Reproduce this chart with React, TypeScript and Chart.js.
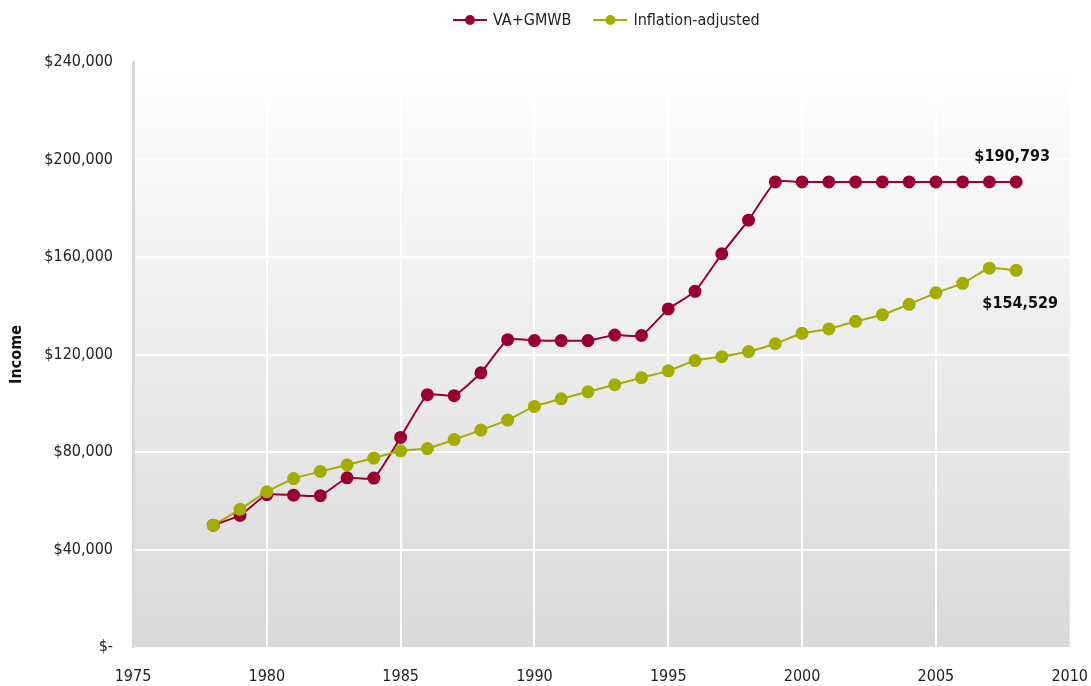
import React, { useEffect, useRef } from "react";
import { Chart, registerables } from "chart.js";

Chart.register(...registerables);

const years = [1978, 1979, 1980, 1981, 1982, 1983, 1984, 1985, 1986, 1987, 1988, 1989, 1990, 1991, 1992, 1993, 1994, 1995, 1996, 1997, 1998, 1999, 2000, 2001, 2002, 2003, 2004, 2005, 2006, 2007, 2008];
const vaGmwb = [50000, 54000, 62500, 62300, 62100, 69400, 69300, 86000, 103500, 103100, 112500, 126100, 125700, 125700, 125700, 128000, 127800, 138700, 145900, 161300, 175100, 190793, 190793, 190793, 190793, 190793, 190793, 190793, 190793, 190793, 190793];
const inflationAdj = [50000, 56500, 63700, 69100, 72000, 74700, 77500, 80500, 81400, 85100, 89000, 93100, 98700, 101800, 104700, 107600, 110500, 113300, 117500, 119100, 121200, 124400, 128700, 130500, 133600, 136300, 140600, 145300, 149200, 155400, 154529];
const seriesLabels = ["VA+GMWB", "Inflation-adjusted"];
const seriesColors = ["#990033", "#a3ad00"];
const xTicks = { min: 1975, max: 2010, step: 5 };
const yTicks = { min: 0, max: 240000, step: 40000 };

const FONT = "'DejaVu Sans Condensed', 'Liberation Sans Narrow', sans-serif";

const bgPlugin = {
  id: "bgGradient",
  beforeDraw(chart: any) {
    const { ctx, chartArea } = chart;
    if (!chartArea) return;
    const g = ctx.createLinearGradient(0, chartArea.top, 0, chartArea.bottom);
    g.addColorStop(0, "#ffffff");
    g.addColorStop(1, "#d9d9d9");
    ctx.save();
    ctx.fillStyle = g;
    ctx.fillRect(chartArea.left, chartArea.top, chartArea.right - chartArea.left, chartArea.bottom - chartArea.top);
    ctx.restore();
  },
};

const legendPlugin = {
  id: "customLegend",
  afterDraw(chart: any) {
    const { ctx, chartArea } = chart;
    ctx.save();
    ctx.font = `16px ${FONT}`;
    const lineW = 34;
    const gap = 6;
    const itemGap = 22;
    const widths = chart.data.datasets.map((d: any) => ctx.measureText(d.label).width);
    const total = widths.reduce((a: number, w: number) => a + lineW + gap + w, 0) + itemGap * (widths.length - 1);
    let x = (chartArea.left + chartArea.right) / 2 + 5 - total / 2;
    const y = 20;
    chart.data.datasets.forEach((d: any, i: number) => {
      ctx.strokeStyle = d.borderColor;
      ctx.lineWidth = 2;
      ctx.beginPath();
      ctx.moveTo(x, y);
      ctx.lineTo(x + lineW, y);
      ctx.stroke();
      ctx.fillStyle = d.backgroundColor;
      ctx.beginPath();
      ctx.arc(x + lineW / 2, y, 5, 0, Math.PI * 2);
      ctx.fill();
      ctx.fillStyle = "#222";
      ctx.textBaseline = "middle";
      ctx.textAlign = "left";
      ctx.fillText(d.label, x + lineW + gap, y + 1);
      x += lineW + gap + widths[i] + itemGap;
    });
    ctx.restore();
  },
};

const endLabelPlugin = {
  id: "endLabels",
  afterDatasetsDraw(chart: any) {
    const { ctx } = chart;
    ctx.save();
    ctx.font = `bold 16px ${FONT}`;
    ctx.fillStyle = "#111";
    ctx.textAlign = "center";
    ctx.textBaseline = "middle";
    chart.data.datasets.forEach((d: any, i: number) => {
      const meta = chart.getDatasetMeta(i);
      const last = meta.data[meta.data.length - 1];
      const v = d.data[d.data.length - 1].y;
      const txt = "$" + v.toLocaleString("en-US");
      if (i === 0) ctx.fillText(txt, last.x - 4, last.y - 25);
      else ctx.fillText(txt, last.x + 4, last.y + 34);
    });
    ctx.restore();
  },
};

export default function App() {
  const ref = useRef<HTMLCanvasElement | null>(null);
  useEffect(() => {
    document.body.style.margin = "0";
    if (!ref.current) return;
    const mk = (vals: number[]) => years.map((x, i) => ({ x, y: vals[i] }));
    const chart = new Chart(ref.current, {
      type: "line",
      data: {
        datasets: [
          {
            label: seriesLabels[0],
            data: mk(vaGmwb),
            borderColor: seriesColors[0],
            backgroundColor: seriesColors[0],
            pointBackgroundColor: seriesColors[0],
            pointBorderColor: seriesColors[0],
            pointRadius: 5.5,
            borderWidth: 2,
            tension: 0.15,
            order: 1,
          },
          {
            label: seriesLabels[1],
            data: mk(inflationAdj),
            borderColor: seriesColors[1],
            backgroundColor: seriesColors[1],
            pointBackgroundColor: seriesColors[1],
            pointBorderColor: seriesColors[1],
            pointRadius: 5.5,
            borderWidth: 2,
            tension: 0.15,
            order: 0,
          },
        ],
      },
      options: {
        animation: false,
        responsive: true,
        maintainAspectRatio: false,
        layout: { padding: { top: 62, right: 0, left: 0, bottom: 0 } },
        plugins: { legend: { display: false }, tooltip: { enabled: false } },
        scales: {
          x: {
            type: "linear",
            min: xTicks.min,
            max: xTicks.max,
            ticks: {
              stepSize: xTicks.step,
              padding: 3,
              color: "#222",
              font: { family: FONT, size: 16 },
              callback: (v: any) => String(v),
            },
            grid: {
              color: (c: any) => (c.tick && c.tick.value === xTicks.max ? "rgba(0,0,0,0)" : "#ffffff"),
              lineWidth: 2,
              drawTicks: true,
              tickLength: 17,
              tickColor: "rgba(0,0,0,0)",
            },
            border: { display: false },
            afterFit: (s: any) => {
              s.height = 39;
            },
          },
          y: {
            min: yTicks.min,
            max: yTicks.max,
            ticks: {
              stepSize: yTicks.step,
              padding: 20,
              color: "#222",
              font: { family: FONT, size: 16 },
              callback: (v: any) => (v === 0 ? "$-" : "$" + Number(v).toLocaleString("en-US")),
            },
            grid: {
              color: (c: any) => (c.tick && c.tick.value === 0 ? "rgba(0,0,0,0)" : "#ffffff"),
              lineWidth: 2,
              drawTicks: false,
            },
            border: { display: true, color: "#d9d9d9", width: 3 },
            title: {
              display: true,
              text: "Income",
              color: "#111",
              font: { family: FONT, size: 16, weight: "bold" },
              padding: { top: 7, bottom: 0 },
            },
            afterFit: (s: any) => {
              s.width = 133;
            },
          },
        },
      },
      plugins: [bgPlugin, legendPlugin, endLabelPlugin],
    });
    return () => chart.destroy();
  }, []);
  return (
    <div style={{ width: 1091, height: 686, position: "relative" }}>
      <canvas ref={ref} />
    </div>
  );
}
